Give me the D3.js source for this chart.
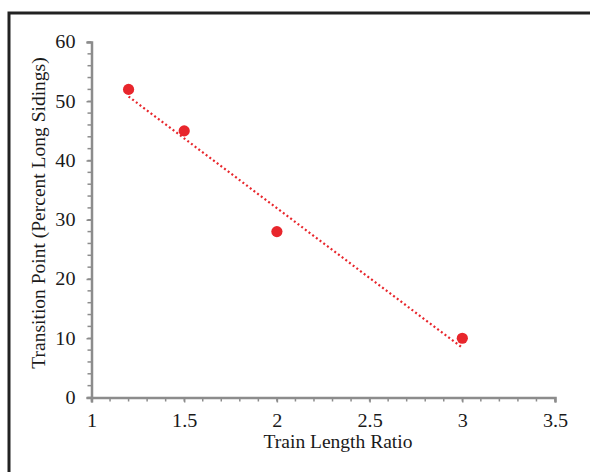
<!DOCTYPE html>
<html>
<head>
<meta charset="utf-8">
<script src="https://cdn.jsdelivr.net/npm/d3@7"></script>
<style>
  body { margin: 0; background: #fff; }
  svg { display: block; }
  text { font-family: "Liberation Serif", "Times New Roman", serif; }
</style>
</head>
<body>
<svg width="590" height="472"></svg>
<script>
// data
const trainRatio = [1.2, 1.5, 2, 3];
const transition = [52, 45, 28, 10];
const trendX = [1.2, 3];
const trendY = [50.8, 8.4];
const xTicks = [1, 1.5, 2, 2.5, 3, 3.5];
const yTicks = [0, 10, 20, 30, 40, 50, 60];

const svg = d3.select("svg");
const red = "#e8262c";
const axisCol = "#8c8c8c";
const ink = "#1a1a1a";

// frame round the figure
svg.append("path")
   .attr("d", "M9,480 V13 H600")
   .attr("fill", "none")
   .attr("stroke", "#222")
   .attr("stroke-width", 3);

const x = d3.scaleLinear().domain([1, 3.5]).range([91.5, 555]);
const y = d3.scaleLinear().domain([0, 60]).range([397.5, 42]);

// minor ticks
const xMinor = d3.range(1, 3.51, 0.1);
const yMinor = d3.range(0, 60.1, 2);

svg.append("g")
   .selectAll("line")
   .data(xMinor)
   .join("line")
     .attr("x1", d => x(d)).attr("x2", d => x(d))
     .attr("y1", y(0)).attr("y2", y(0) + 4)
     .attr("stroke", axisCol).attr("stroke-width", 1.5);

svg.append("g")
   .selectAll("line")
   .data(yMinor)
   .join("line")
     .attr("y1", d => y(d)).attr("y2", d => y(d))
     .attr("x1", x(1)).attr("x2", x(1) - 4)
     .attr("stroke", axisCol).attr("stroke-width", 1.5);

// axes
const xAxis = svg.append("g")
   .attr("transform", `translate(0,${y(0)})`)
   .call(d3.axisBottom(x).tickValues(xTicks).tickSize(5).tickPadding(12)
           .tickFormat(d3.format("")));

const yAxis = svg.append("g")
   .attr("transform", `translate(${x(1)},0)`)
   .call(d3.axisLeft(y).tickValues(yTicks).tickSize(5).tickPadding(11));

[xAxis, yAxis].forEach(g => {
    g.attr("font-family", "Liberation Serif").attr("font-size", 18);
    g.select(".domain").attr("stroke", axisCol).attr("stroke-width", 2.5);
    g.selectAll(".tick line").attr("stroke", axisCol).attr("stroke-width", 1.5);
    // the source glyphs are a little wider than the font's own
    g.selectAll(".tick text")
     .attr("fill", ink)
     .attr("lengthAdjust", "spacingAndGlyphs")
     .attr("textLength", function() { return this.getComputedTextLength() * 1.12; });
});

// axis titles
svg.append("text")
   .attr("x", 338).attr("y", 447.5)
   .attr("text-anchor", "middle")
   .attr("font-size", 19.5)
   .attr("fill", ink)
   .text("Train Length Ratio");

svg.append("text")
   .attr("transform", "translate(45,213) rotate(-90)")
   .attr("text-anchor", "middle")
   .attr("font-size", 19.5)
   .attr("fill", ink)
   .text("Transition Point (Percent Long Sidings)");

// trend line
svg.append("line")
   .attr("x1", x(trendX[0])).attr("y1", y(trendY[0]))
   .attr("x2", x(trendX[1])).attr("y2", y(trendY[1]))
   .attr("stroke", red)
   .attr("stroke-width", 2.2)
   .attr("stroke-dasharray", "2,2.6");

// points
svg.append("g")
   .selectAll("circle")
   .data(trainRatio)
   .join("circle")
     .attr("cx", d => x(d))
     .attr("cy", (d, i) => y(transition[i]))
     .attr("r", 5.6)
     .attr("fill", red);
</script>
</body>
</html>
